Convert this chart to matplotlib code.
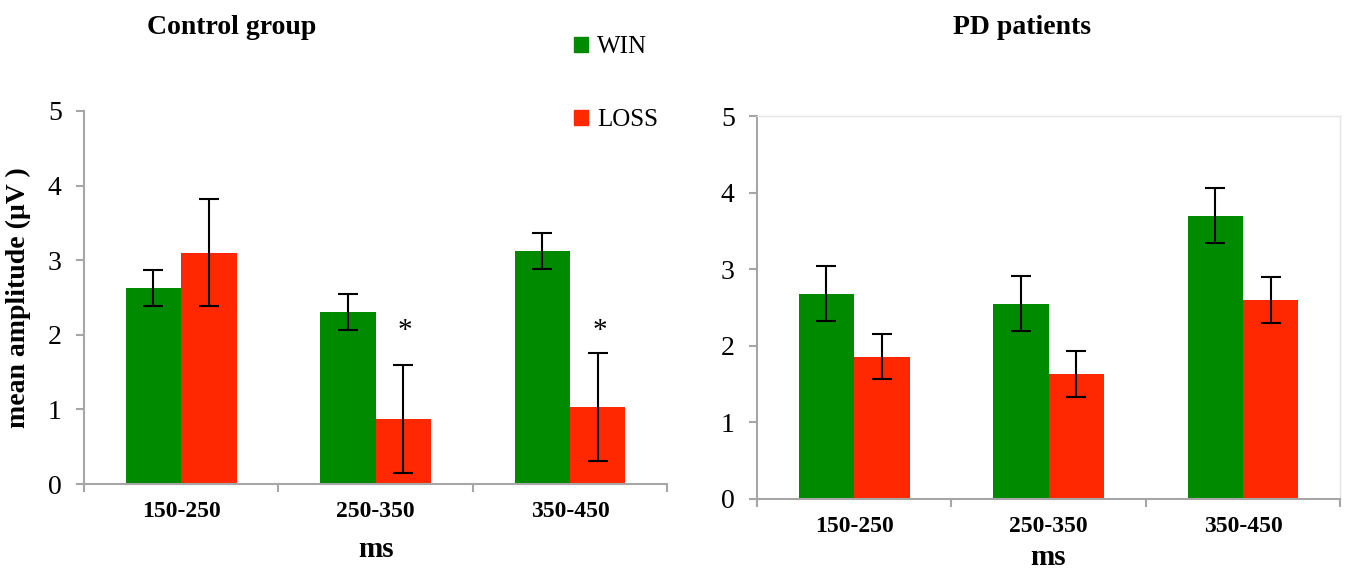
import matplotlib
matplotlib.use("Agg")
import matplotlib.pyplot as plt
from matplotlib.patches import Patch
import numpy as np

plt.rcParams["font.family"] = ["Liberation Serif", "DejaVu Serif"]

windows = ["150-250", "250-350", "350-450"]

# Control group
ctrl_win = [2.63, 2.31, 3.12]
ctrl_win_err = [0.24, 0.24, 0.24]
ctrl_loss = [3.10, 0.87, 1.03]
ctrl_loss_err = [0.72, 0.72, 0.72]
ctrl_sig = [False, True, True]

# PD patients
pd_win = [2.68, 2.55, 3.70]
pd_win_err = [0.36, 0.36, 0.36]
pd_loss = [1.86, 1.63, 2.60]
pd_loss_err = [0.29, 0.30, 0.30]

WIN_COLOR = "#008a00"
LOSS_COLOR = "#ff2800"
AXIS_GRAY = "#a6a6a6"

fig = plt.figure(figsize=(13.5, 5.76), dpi=100)
ax_l = fig.add_axes([0.0622, 0.1597, 0.432, 0.6476])
ax_r = fig.add_axes([0.5607, 0.1337, 0.432, 0.6649])


def draw_panel(ax, win, win_err, loss, loss_err, frame, xpad):
    x = np.arange(len(windows))
    w = 0.285
    ax.bar(x - w / 2, win, w, color=WIN_COLOR, zorder=2)
    ax.bar(x + w / 2, loss, w, color=LOSS_COLOR, zorder=2)
    ekw = dict(fmt="none", ecolor="black", elinewidth=1.5, capsize=7, capthick=1.5, zorder=3)
    ax.errorbar(x - w / 2, win, yerr=win_err, **ekw)
    ax.errorbar(x + w / 2, loss, yerr=loss_err, **ekw)

    ax.set_xlim(-0.5, len(windows) - 0.5)
    ax.set_ylim(0, 5)
    ax.set_yticks(range(6))
    ax.tick_params(axis="y", labelsize=20, length=6, width=1.5, color=AXIS_GRAY, pad=10)
    # category boundary ticks, labels at centres
    ax.set_xticks(np.arange(-0.5, len(windows), 1.0))
    ax.set_xticklabels([])
    ax.set_xticks(x, minor=True)
    ax.set_xticklabels(windows, minor=True, fontsize=17, fontweight="bold")
    ax.tick_params(axis="x", which="major", length=6, width=1.5, color=AXIS_GRAY)
    ax.tick_params(axis="x", which="minor", length=0, pad=12)
    ax.set_xlabel("ms", fontsize=21, fontweight="bold", labelpad=xpad)

    for side in ("left", "bottom"):
        ax.spines[side].set_color(AXIS_GRAY)
        ax.spines[side].set_linewidth(1.5)
    for side in ("top", "right"):
        if frame:
            ax.spines[side].set_color("#e4e4e4")
            ax.spines[side].set_linewidth(1.0)
        else:
            ax.spines[side].set_visible(False)
    return x, w


x, w = draw_panel(ax_l, ctrl_win, ctrl_win_err, ctrl_loss, ctrl_loss_err, False, 10)
for xi, sig in zip(x, ctrl_sig):
    if sig:
        ax_l.text(xi + w / 2 + 0.01, 2.05, "*", ha="center", va="center", fontsize=21)
ax_l.set_ylabel("mean amplitude (µV )", fontsize=20, fontweight="bold", labelpad=12)

draw_panel(ax_r, pd_win, pd_win_err, pd_loss, pd_loss_err, True, 5)

fig.text(232 / 1350, 1 - 28 / 576, "Control group", ha="center", va="center",
         fontsize=20, fontweight="bold")
fig.text(1022 / 1350, 1 - 28 / 576, "PD patients", ha="center", va="center",
         fontsize=20, fontweight="bold")

handles = [Patch(color=WIN_COLOR, label="WIN"), Patch(color=LOSS_COLOR, label="LOSS")]
fig.legend(handles=handles, loc="upper left", bbox_to_anchor=(0.418, 0.955),
           frameon=False, fontsize=18, handlelength=0.55, handleheight=0.55,
           handletextpad=0.35, labelspacing=2.05, borderaxespad=0)

fig.savefig("out.png", dpi=100)
